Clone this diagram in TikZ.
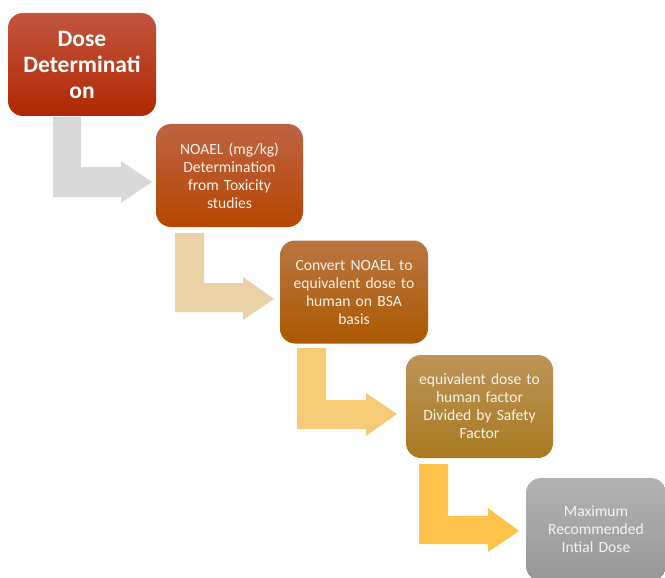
\documentclass[tikz,border=0pt]{standalone}
\usepackage{fontspec}
\setmainfont{Carlito}
\definecolor{bAt}{HTML}{C25540}
\definecolor{bAb}{HTML}{B02800}
\definecolor{bBt}{HTML}{BE6444}
\definecolor{bBb}{HTML}{B64600}
\definecolor{bCt}{HTML}{BA7642}
\definecolor{bCb}{HTML}{AC5800}
\definecolor{bDt}{HTML}{BC9458}
\definecolor{bDb}{HTML}{A87A20}
\definecolor{bEt}{HTML}{B2B2B2}
\definecolor{bEb}{HTML}{979797}
\definecolor{aA}{HTML}{D9D9D9}
\definecolor{aB}{HTML}{E9D3A6}
\definecolor{aC}{HTML}{F5CB78}
\definecolor{aD}{HTML}{FFC24A}
\definecolor{txt}{HTML}{F8F2EC}
\tikzset{
  stepbox/.style={rounded corners=15pt, minimum width=147pt, minimum height=103pt,
    text width=140pt, align=center, text=txt, font=\fontsize{15.6}{18}\selectfont, inner sep=0pt}
}
\begin{document}
\begin{tikzpicture}[x=1pt,y=-1pt]
\useasboundingbox (0,0) rectangle (665,578);
\clip (0,0) rectangle (665,578);
% boxes
\node[stepbox, top color=bAt, bottom color=bAb, minimum width=148pt, text=white,
  font=\bfseries\fontsize{23.5}{26}\selectfont] (n1) at (82,64.5) {Dose\\Determinati\\on};
\node[stepbox, top color=bBt, bottom color=bBb] (n2) at (229.5,175.5) {NOAEL (mg/kg)\\Determination\\from Toxicity\\studies};
\node[stepbox, top color=bCt, bottom color=bCb, minimum width=148pt] (n3) at (354,292) {Convert NOAEL to\\equivalent dose to\\human on BSA\\basis};
\node[stepbox, top color=bDt, bottom color=bDb] (n4) at (479.5,406.5) {equivalent dose to\\human factor\\Divided by Safety\\Factor};
\node[stepbox, top color=bEt, bottom color=bEb, minimum width=140pt] (n5) at (596,529.5) {Maximum\\Recommended\\Intial Dose};
% bent arrows
\fill[aA] (53,117) -- (81,117) -- (81,167) -- (121,167) -- (121,161) -- (152,182) -- (121,203) -- (121,197) -- (53,197) -- cycle;
\fill[aB] (175,233) -- (204,233) -- (204,283) -- (243,283) -- (243,277) -- (274,299) -- (243,320) -- (243,312) -- (175,312) -- cycle;
\fill[aC] (297,348) -- (326,348) -- (326,400) -- (366,400) -- (366,393) -- (397,414) -- (366,436) -- (366,429) -- (297,429) -- cycle;
\fill[aD] (419,464) -- (448,464) -- (448,516) -- (488,516) -- (488,508) -- (519,531) -- (488,552) -- (488,544) -- (419,544) -- cycle;
\end{tikzpicture}
\end{document}
